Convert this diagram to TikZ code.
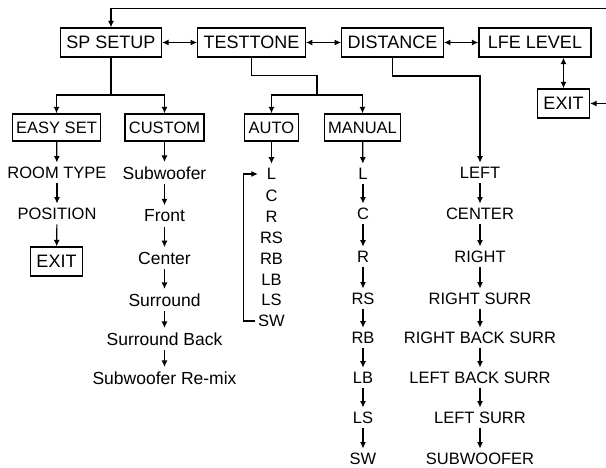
\documentclass[tikz,border=0pt]{standalone}
\usepackage{fontspec}
\setmainfont{Liberation Sans}
\usetikzlibrary{arrows.meta}

\begin{document}
\begin{tikzpicture}[x=1pt, y=-1pt, line width=1.2pt,
    menu/.style={draw, inner xsep=6pt, minimum height=29pt, font=\fontsize{18}{20}\selectfont},
    submenu/.style={draw, inner xsep=4pt, minimum height=27pt, font=\fontsize{16.5}{18}\selectfont},
    item/.style={inner xsep=2.5pt, inner ysep=4pt, font=\fontsize{16.5}{18}\selectfont},
    lcitem/.style={inner xsep=2.5pt, inner ysep=4pt, font=\fontsize{17.5}{19}\selectfont},
    arr/.style={-{Latex[length=6.5pt,width=6pt]}},
    dblarr/.style={{Latex[length=6.5pt,width=6pt]}-{Latex[length=6.5pt,width=6pt]}}]
    \useasboundingbox (0,0) rectangle (606,468);

    % main menu
    \node[menu] (sp) at (111,42.5) {SP SETUP};
    \node[menu] (tt) at (251.5,42.5) {TESTTONE};
    \node[menu] (dist) at (392.5,42.5) {DISTANCE};
    \node[menu, minimum width=112pt] (lfe) at (535,42.5) {LFE LEVEL};
    \node[menu] (exitR) at (563.5,103.5) {EXIT};
    \coordinate (loop) at (606,8.5);
    \coordinate (exitin) at (606,103.5);

    \draw[dblarr] (sp) -- (tt);
    \draw[dblarr] (tt) -- (dist);
    \draw[dblarr] (dist) -- (lfe);
    \draw[dblarr] (exitR.north |- lfe.south) -- (exitR.north);
    \draw[arr] (loop) -| (sp);
    \draw[arr] (exitin) -- (exitR);

    % sub menus
    \node[submenu] (easy) at (56.5,127.5) {EASY SET};
    \node[submenu] (custom) at (164.5,127.5) {CUSTOM};
    \node[submenu] (auto) at (271.5,127.5) {AUTO};
    \node[submenu] (manual) at (362.5,127.5) {MANUAL};

    \coordinate (spj) at (111,95);
    \coordinate (ttj1) at (317,75.5);
    \coordinate (ttj2) at (317,95);
    \coordinate (dj) at (480,76);
    \draw (sp) -- (spj);
    \draw[arr] (spj) -| (easy);
    \draw[arr] (spj) -| (custom);
    \draw (tt) |- (ttj1) -- (ttj2);
    \draw[arr] (ttj2) -| (auto);
    \draw[arr] (ttj2) -| (manual);

    % easy set
    \node[item] (eroom) at (57,173) {ROOM TYPE};
    \node[item] (epos) at (57,214) {POSITION};
    \node[menu] (eexit) at (56.5,261.5) {EXIT};
    \path[arr] (easy) edge (eroom) (eroom) edge (epos) (epos) edge (eexit);

    % custom
    \node[lcitem] (csub) at (164.5,173) {Subwoofer};
    \node[lcitem] (cfront) at (164.5,216) {Front};
    \node[lcitem] (ccenter) at (164.5,258) {Center};
    \node[lcitem] (csurr) at (164.5,300) {Surround};
    \node[lcitem] (cback) at (164.5,339) {Surround Back};
    \node[lcitem] (cremix) at (164.5,378) {Subwoofer Re-mix};
    \path[arr] (custom) edge (csub) (csub) edge (cfront) (cfront) edge (ccenter)
        (ccenter) edge (csurr) (csurr) edge (cback) (cback) edge (cremix);

    % auto
    \node[item] (aL) at (271.5,174) {L};
    \node[item] (aC) at (271.5,196) {C};
    \node[item] (aR) at (271.5,217) {R};
    \node[item] (aRS) at (271.5,238) {RS};
    \node[item] (aRB) at (271.5,259) {RB};
    \node[item] (aLB) at (271.5,280) {LB};
    \node[item] (aLS) at (271.5,300) {LS};
    \node[item] (aSW) at (271.5,321) {SW};
    \draw[arr] (auto) -- (aL);
    \draw[arr, shorten >=6pt] (aSW.west) -- ++(-12,0) |- (aL.west);

    % manual
    \node[item] (mL) at (363,174) {L};
    \node[item] (mC) at (363,214) {C};
    \node[item] (mR) at (363,257) {R};
    \node[item] (mRS) at (363,299) {RS};
    \node[item] (mRB) at (363,338) {RB};
    \node[item] (mLB) at (363,378) {LB};
    \node[item] (mLS) at (363,418) {LS};
    \node[item] (mSW) at (363,459) {SW};
    \path[arr] (manual) edge (mL) (mL) edge (mC) (mC) edge (mR) (mR) edge (mRS)
        (mRS) edge (mRB) (mRB) edge (mLB) (mLB) edge (mLS) (mLS) edge (mSW);

    % distance
    \node[item] (dL) at (480,173) {LEFT};
    \node[item] (dC) at (480,214) {CENTER};
    \node[item] (dR) at (480,257) {RIGHT};
    \node[item] (dRS) at (480,299) {RIGHT SURR};
    \node[item] (dRB) at (480,338) {RIGHT BACK SURR};
    \node[item] (dLB) at (480,378) {LEFT BACK SURR};
    \node[item] (dLS) at (480,418) {LEFT SURR};
    \node[item] (dSW) at (480,459) {SUBWOOFER};
    \draw[arr] (dist) |- (dj) -- (dL);
    \path[arr] (dL) edge (dC) (dC) edge (dR) (dR) edge (dRS) (dRS) edge (dRB)
        (dRB) edge (dLB) (dLB) edge (dLS) (dLS) edge (dSW);
\end{tikzpicture}
\end{document}
